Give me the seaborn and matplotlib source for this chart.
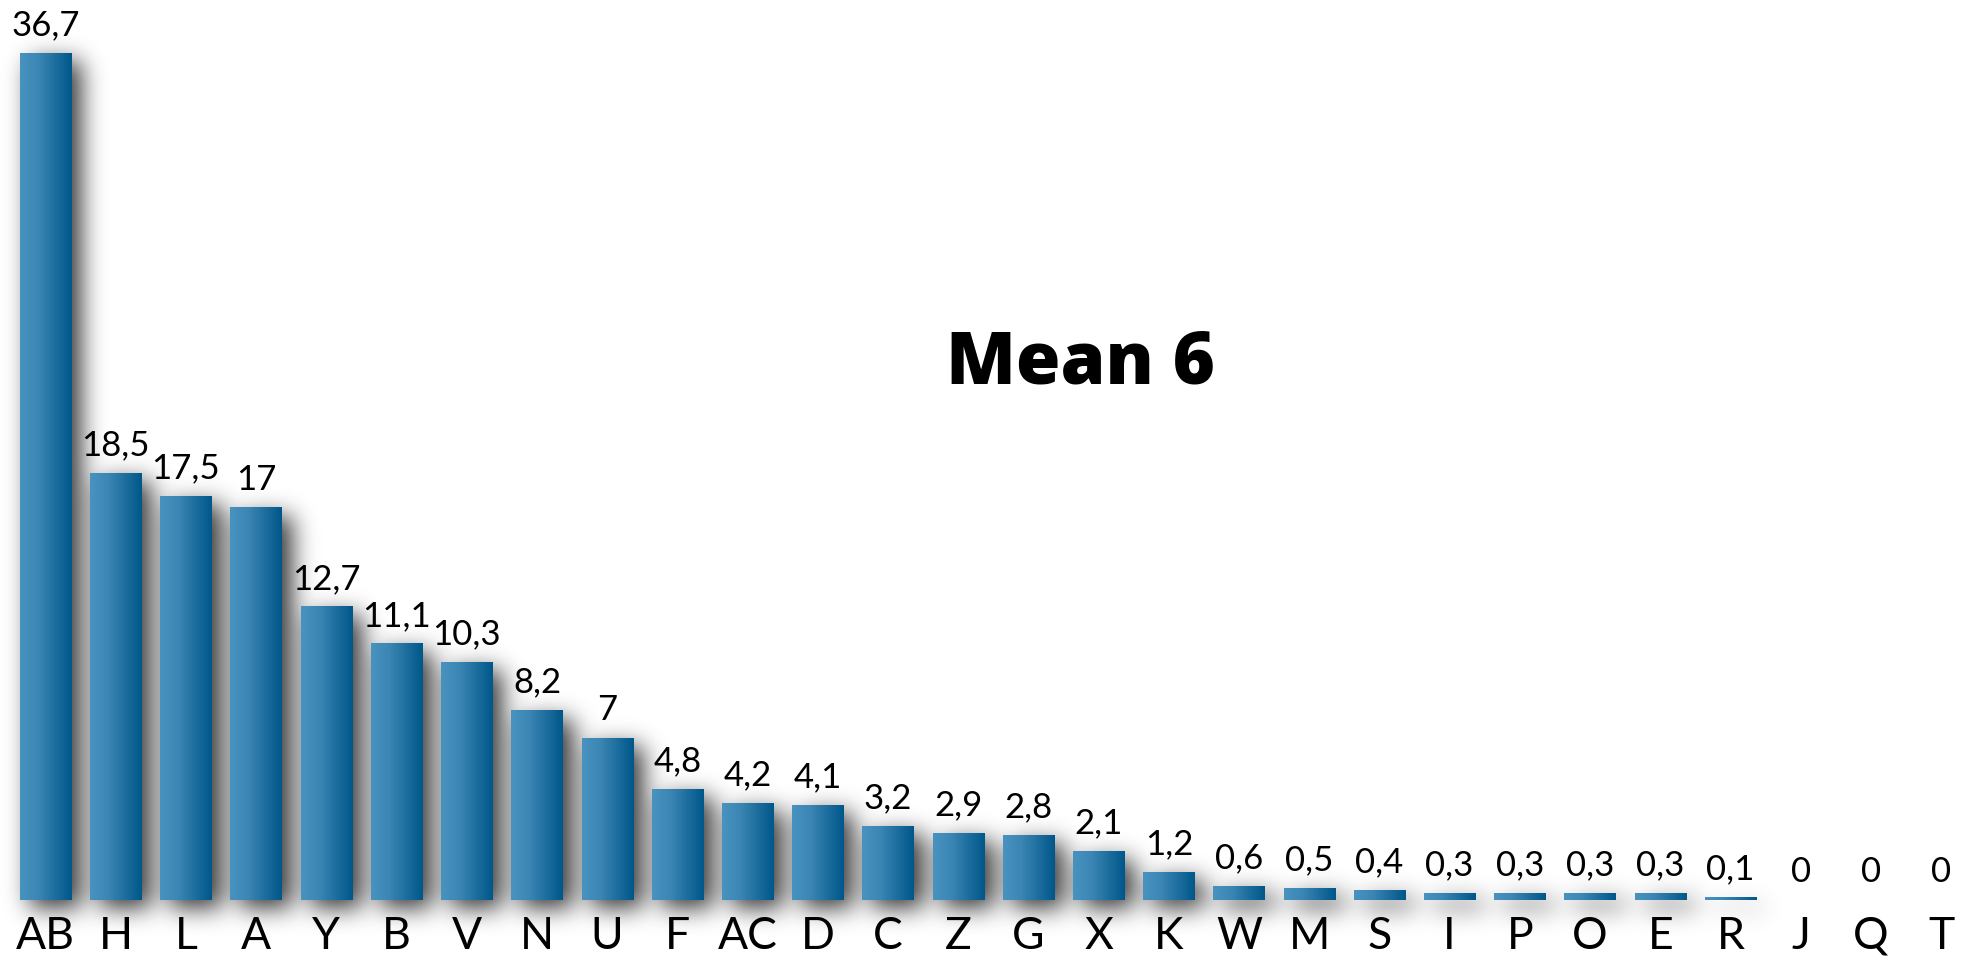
import numpy as np
import matplotlib
matplotlib.use("Agg")
import matplotlib.pyplot as plt
from matplotlib.colors import LinearSegmentedColormap
import seaborn as sns

# Category labels and their values, in display order
categories = ["AB", "H", "L", "A", "Y", "B", "V", "N", "U", "F", "AC", "D", "C",
              "Z", "G", "X", "K", "W", "M", "S", "I", "P", "O", "E", "R", "J", "Q", "T"]
values = [36.7, 18.5, 17.5, 17, 12.7, 11.1, 10.3, 8.2, 7, 4.8, 4.2, 4.1, 3.2,
          2.9, 2.8, 2.1, 1.2, 0.6, 0.5, 0.4, 0.3, 0.3, 0.3, 0.3, 0.1, 0, 0, 0]

W, H, DPI = 1972, 979, 100

sns.set_theme(style="white")
plt.rcParams["font.family"] = ["Lato", "DejaVu Sans"]

fig = plt.figure(figsize=(W / DPI, H / DPI), dpi=DPI)
fig.patch.set_facecolor("white")
ax = fig.add_axes([0, 0.0797, 1, 0.9203])
ax.patch.set_visible(False)

sns.barplot(x=categories, y=values, color="#2f7aab", width=0.73,
            saturation=1, ax=ax, zorder=3)

ax.set_xlim(-0.648, 27.44)
ax.set_ylim(0, 39.04)
for s in ax.spines.values():
    s.set_visible(False)
ax.set_yticks([])
ax.set_xlabel("")
ax.set_ylabel("")
ax.tick_params(axis="x", length=0, pad=10.8, labelsize=32, colors="black")

# Horizontal blue gradient inside each bar
grad_cmap = LinearSegmentedColormap.from_list(
    "bar_grad", [(0.0, "#4893bf"), (0.35, "#3b86b4"), (1.0, "#00578a")])
grad = np.linspace(0, 1, 256).reshape(1, -1)
bars = list(ax.patches)
for p in bars:
    x0, w, h = p.get_x(), p.get_width(), p.get_height()
    p.set_facecolor("none")
    p.set_edgecolor("none")
    if h > 0:
        ax.imshow(grad, cmap=grad_cmap, extent=[x0, x0 + w, 0, h],
                  aspect="auto", interpolation="bilinear", zorder=4)
ax.set_xlim(-0.648, 27.44)
ax.set_ylim(0, 39.04)

# Value labels above the bars
for i, v in enumerate(values):
    txt = f"{v:g}".replace(".", ",")
    ax.annotate(txt, xy=(i, v), xytext=(0, 13.7), textcoords="offset points",
                ha="center", va="baseline", fontsize=25, color="black", zorder=6)

mean_val = np.mean(values)
ax.text(14.74, 22.44, f"Mean {mean_val:.0f}", ha="center", va="baseline",
        fontsize=52, fontweight=800, color="black", zorder=6,
        family=["Open Sans", "DejaVu Sans"])

# Soft drop shadow behind the bars, built from the rendered bar extents
fig.canvas.draw()
mask = np.zeros((H, W))
dx, dy = 10, 8
for p in bars:
    if p.get_height() <= 0:
        continue
    bb = p.get_window_extent()
    c0 = int(round(bb.x0 + dx)); c1 = int(round(bb.x1 + dx))
    r0 = int(round(H - bb.y1 + dy)); r1 = int(round(H - bb.y0 + dy))
    r1 = max(r1, r0 + 1)
    mask[max(r0, 0):min(r1, H), max(c0, 0):min(c1, W)] = 1.0


def blur1d(a, sigma, axis):
    rad = int(3 * sigma)
    k = np.exp(-0.5 * (np.arange(-rad, rad + 1) / sigma) ** 2)
    k /= k.sum()
    pad = [(0, 0), (0, 0)]
    pad[axis] = (rad, rad)
    ap = np.pad(a, pad)
    out = np.zeros_like(a)
    n = a.shape[axis]
    for j, wgt in enumerate(k):
        if axis == 0:
            out += wgt * ap[j:j + n, :]
        else:
            out += wgt * ap[:, j:j + n]
    return out


sigma = 12.0
shadow = blur1d(blur1d(mask, sigma, 0), sigma, 1)
rgba = np.zeros((H, W, 4))
rgba[..., 3] = np.clip(shadow * 0.8, 0, 1)
fig.figimage(rgba, xo=0, yo=0, origin="upper", zorder=-1)

fig.savefig("out.png", dpi=DPI, facecolor="white")
